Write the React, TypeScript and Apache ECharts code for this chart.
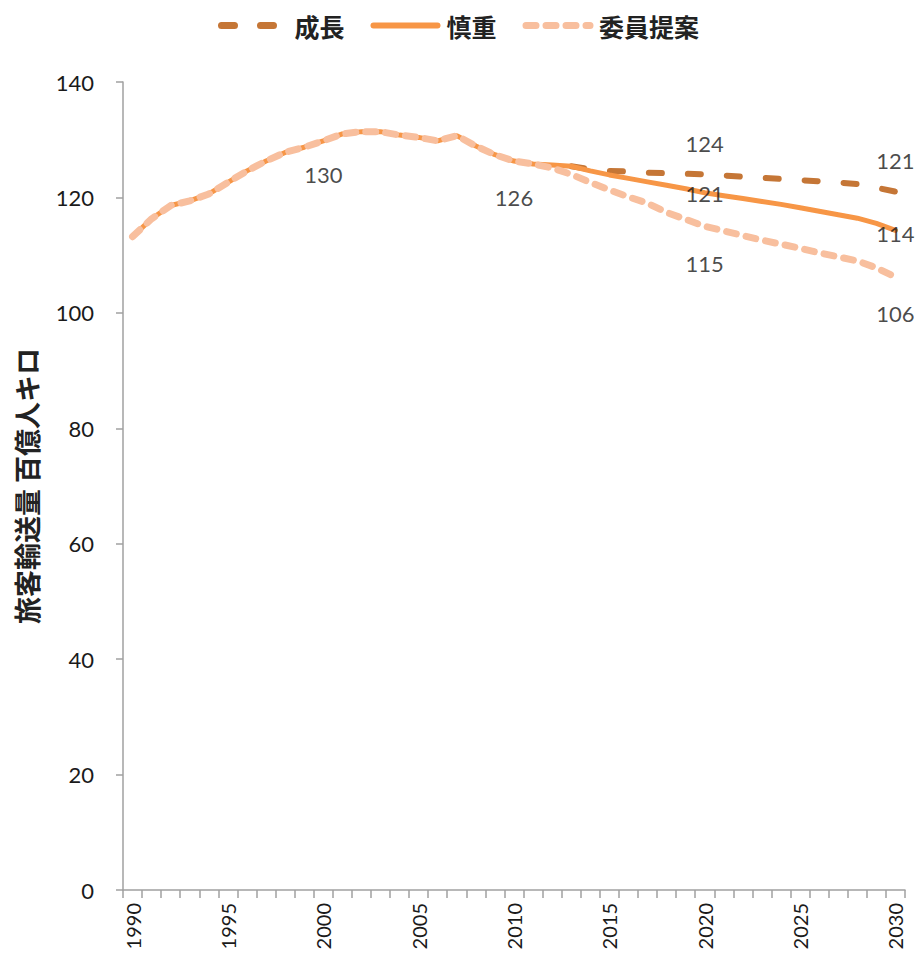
import React, { useEffect, useRef } from "react";
import * as echarts from "echarts";

// Category axis: one slot per year, 1990–2030
const years: string[] = [];
for (let y = 1990; y <= 2030; y++) years.push(String(y));

// Recorded passenger volume, 1990–2013 (百億人キロ)
const history = [
  113.2, 116.3, 118.6, 119.4, 120.6, 122.6, 124.6, 126.3, 127.8, 128.7,
  129.8, 131.0, 131.4, 131.4, 130.8, 130.4, 129.8, 130.7, 128.9, 127.4,
  126.3, 125.8, 125.6, 125.4,
];

// 成長 scenario, 2014–2030
const growthProj = [
  124.9, 124.6, 124.5, 124.3, 124.2, 124.1, 124.0, 123.8, 123.6, 123.4,
  123.2, 123.0, 122.8, 122.6, 122.3, 121.7, 121.0,
];

// 慎重 scenario, 2014–2030
const cautiousProj = [
  124.6, 123.9, 123.3, 122.7, 122.1, 121.5, 120.8, 120.3, 119.8, 119.3,
  118.8, 118.2, 117.6, 117.0, 116.4, 115.5, 114.3,
];

// 委員提案 scenario, 2012–2030
const commissionProj = [
  125.1, 124.0, 122.6, 121.3, 120.1, 119.0, 117.4, 116.2, 115.0, 114.2,
  113.4, 112.6, 111.9, 111.2, 110.4, 109.7, 109.0, 107.8, 106.2,
];

const seriesNames = ["成長", "慎重", "委員提案"];
const yTicks = { min: 0, max: 140, interval: 20 };

const COLORS = ["#C57636", "#F79646", "#F8BF9E"];
const FONT = "Lato, 'Noto Sans', sans-serif";
const CJK = "'Noto Sans CJK JP', sans-serif";

function buildSeriesData() {
  const growth: (number | null)[] = years.map(() => null);
  const cautious: (number | null)[] = years.map(() => null);
  const commission: (number | null)[] = years.map(() => null);
  history.forEach((v, i) => {
    cautious[i] = v;
    if (i < 22) commission[i] = v;
  });
  growth[23] = history[23];
  growthProj.forEach((v, i) => (growth[24 + i] = v));
  cautiousProj.forEach((v, i) => (cautious[24 + i] = v));
  commissionProj.forEach((v, i) => (commission[22 + i] = v));
  return [growth, cautious, commission];
}

// Which points get a value label, and how far the label sits from the line
const labelSpots = [
  { s: 1, year: "2000", dy: 34 },
  { s: 1, year: "2010", dy: 36 },
  { s: 0, year: "2020", dy: -31 },
  { s: 1, year: "2020", dy: 1 },
  { s: 2, year: "2020", dy: 37 },
  { s: 0, year: "2030", dy: -31 },
  { s: 1, year: "2030", dy: 3 },
  { s: 2, year: "2030", dy: 36 },
];

const growthLine = { color: COLORS[0], width: 6, type: [13, 26], cap: "round" };
const cautiousLine = { color: COLORS[1], width: 5, cap: "round" };
const commissionLine = { color: COLORS[2], width: 7, type: [10, 10], cap: "round" };

export default function App() {
  const ref = useRef<HTMLDivElement>(null);

  useEffect(() => {
    if (!ref.current) return;
    const chart = echarts.init(ref.current, undefined, { renderer: "svg" });
    const [growth, cautious, commission] = buildSeriesData();
    const all = [growth, cautious, commission];

    const labelData = labelSpots.map((p) => {
      const idx = years.indexOf(p.year);
      return {
        value: [idx, all[p.s][idx] as number],
        label: { offset: [0, p.dy] },
      };
    });

    chart.setOption({
      animation: false,
      backgroundColor: "#ffffff",
      legend: {
        data: [
          { name: seriesNames[0], lineStyle: { width: 7 } },
          { name: seriesNames[1], lineStyle: { width: 6 } },
          { name: seriesNames[2], lineStyle: { width: 7 } },
        ],
        top: 8,
        left: "center",
        itemWidth: 64,
        itemHeight: 16,
        itemGap: 26,
        itemStyle: { opacity: 0 },
        lineStyle: { width: 7 },
        textStyle: {
          fontFamily: CJK,
          fontSize: 25,
          fontWeight: "bold",
          color: "#222",
          padding: [0, 0, 0, 4],
        },
      },
      grid: { left: 123, right: 12, top: 82, bottom: 73, containLabel: false },
      xAxis: {
        type: "category",
        data: years,
        boundaryGap: true,
        axisLine: { lineStyle: { color: "#a0a0a0", width: 1.5 } },
        axisTick: {
          show: true,
          interval: 0,
          length: 8,
          lineStyle: { color: "#a0a0a0", width: 1.5 },
        },
        axisLabel: {
          interval: 4,
          rotate: 90,
          margin: 13,
          fontFamily: FONT,
          fontSize: 20,
          color: "#1a1a1a",
        },
        splitLine: { show: false },
      },
      yAxis: {
        type: "value",
        min: yTicks.min,
        max: yTicks.max,
        interval: yTicks.interval,
        name: "旅客輸送量 百億人キロ",
        nameLocation: "middle",
        nameRotate: 90,
        nameGap: 83,
        nameTextStyle: {
          fontFamily: CJK,
          fontSize: 27,
          fontWeight: "bold",
          color: "#222",
        },
        axisLine: { show: true, lineStyle: { color: "#a0a0a0", width: 1.5 } },
        axisTick: {
          show: true,
          length: 7,
          lineStyle: { color: "#a0a0a0", width: 1.5 },
        },
        axisLabel: {
          margin: 29,
          fontFamily: FONT,
          fontSize: 22,
          color: "#1a1a1a",
        },
        splitLine: { show: false },
      },
      series: [
        {
          name: seriesNames[0],
          type: "line",
          data: growth,
          symbol: "none",
          color: COLORS[0],
          lineStyle: growthLine,
          z: 2,
        },
        {
          name: seriesNames[1],
          type: "line",
          data: cautious,
          symbol: "none",
          color: COLORS[1],
          lineStyle: cautiousLine,
          z: 3,
        },
        {
          name: seriesNames[2],
          type: "line",
          data: commission,
          symbol: "none",
          color: COLORS[2],
          lineStyle: commissionLine,
          z: 4,
        },
        {
          name: "labels",
          type: "scatter",
          data: labelData,
          symbolSize: 1,
          itemStyle: { color: "rgba(0,0,0,0)" },
          silent: true,
          z: 10,
          label: {
            show: true,
            position: "inside",
            fontFamily: FONT,
            fontSize: 22,
            color: "#1a1a1a",
            formatter: (p: any) => String(Math.round(p.value[1])),
          },
        },
      ],
    });

    return () => chart.dispose();
  }, []);

  return (
    <div
      ref={ref}
      style={{ position: "absolute", left: 0, top: 0, width: 917, height: 963 }}
    />
  );
}
